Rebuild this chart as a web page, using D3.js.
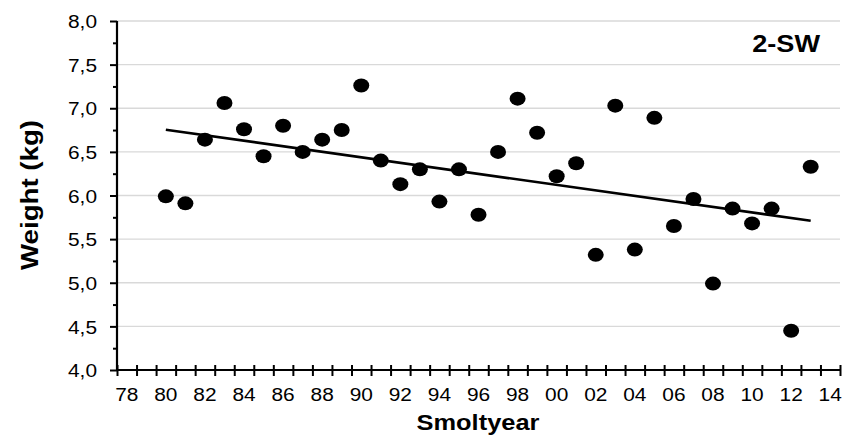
<!DOCTYPE html>
<html>
<head>
<meta charset="utf-8">
<script src="https://cdn.jsdelivr.net/npm/d3@7"></script>
<style>
  body { margin: 0; background: #fff; }
  text { font-family: "Liberation Sans", Arial, sans-serif; fill: #000; }
</style>
</head>
<body>
<svg id="chart" width="851" height="441"></svg>
<script>
// smolt years and mean weight (kg) of 2-SW fish
var years = [1980, 1981, 1982, 1983, 1984, 1985, 1986, 1987, 1988, 1989,
             1990, 1991, 1992, 1993, 1994, 1995, 1996, 1997, 1998, 1999,
             2000, 2001, 2002, 2003, 2004, 2005, 2006, 2007, 2008, 2009,
             2010, 2011, 2012, 2013];
var weights = [5.99, 5.91, 6.64, 7.06, 6.76, 6.45, 6.80, 6.50, 6.64, 6.75,
               7.26, 6.40, 6.13, 6.30, 5.93, 6.30, 5.78, 6.50, 7.11, 6.72,
               6.22, 6.37, 5.32, 7.03, 5.38, 6.89, 5.65, 5.96, 4.99, 5.85,
               5.68, 5.85, 4.45, 6.33];
var categoryYears = d3.range(1978, 2015);          // axis categories 78..14
var xLabelYears = d3.range(1978, 2015, 2);         // labelled every 2nd year
var yTicks = [4.0, 4.5, 5.0, 5.5, 6.0, 6.5, 7.0, 7.5, 8.0];
var yMinorTicks = d3.range(4.25, 8, 0.5);
var seriesLabel = "2-SW";
var xTitle = "Smoltyear";
var yTitle = "Weight (kg)";

var plotL = 117, plotR = 840, plotT = 21, plotB = 370;
var stretch = 1.13;   // glyphs in the original are a bit wider than Arial

var svg = d3.select("#chart");

var x = d3.scaleBand().domain(categoryYears).range([plotL, plotR]).padding(0);
var xEdge = d3.scaleLinear().domain([1978, 2015]).range([plotL, plotR]);
var y = d3.scaleLinear().domain([4, 8]).range([plotB, plotT]);

var locale = d3.formatLocale({ decimal: ",", thousands: ".", grouping: [3], currency: ["", ""] });
var fmtY = locale.format(".1f");

// gridlines
svg.append("g")
    .selectAll("line")
    .data(yTicks.slice(1))
    .enter().append("line")
    .attr("x1", plotL).attr("x2", plotR)
    .attr("y1", d => y(d)).attr("y2", d => y(d))
    .attr("stroke", "#d9d9d9")
    .attr("stroke-width", 1.3);

// trend line (least squares, as in the spreadsheet)
var n = years.length,
    mx = d3.mean(years),
    my = d3.mean(weights);
var sxy = d3.sum(years, (d, i) => (d - mx) * (weights[i] - my)),
    sxx = d3.sum(years, d => (d - mx) * (d - mx));
var slope = sxy / sxx,
    icpt = my - slope * mx;
var ends = [years[0], years[n - 1]];
svg.append("line")
    .attr("x1", x(ends[0]) + x.bandwidth() / 2)
    .attr("x2", x(ends[1]) + x.bandwidth() / 2)
    .attr("y1", y(icpt + slope * ends[0]))
    .attr("y2", y(icpt + slope * ends[1]))
    .attr("stroke", "#000")
    .attr("stroke-width", 2.7);

// points
svg.append("g")
    .selectAll("ellipse")
    .data(years)
    .enter().append("ellipse")
    .attr("cx", d => x(d) + x.bandwidth() / 2)
    .attr("cy", (d, i) => y(weights[i]))
    .attr("rx", 8)
    .attr("ry", 7)
    .attr("fill", "#000");

// y axis: major ticks with labels, minor ticks without
var yAxis = svg.append("g")
    .attr("transform", "translate(" + plotL + ",0)")
    .call(d3.axisLeft(y).tickValues(yTicks).tickSize(7).tickPadding(0).tickFormat(fmtY));
yAxis.select(".domain").remove();
yAxis.selectAll("line").attr("stroke", "#000").attr("stroke-width", 2);
yAxis.selectAll("text")
    .attr("x", -20 / stretch)
    .attr("dy", "0.36em")
    .attr("transform", "scale(" + stretch + ",1)")
    .style("font-size", "18.5px");

var yMinor = svg.append("g")
    .attr("transform", "translate(" + plotL + ",0)")
    .call(d3.axisLeft(y).tickValues(yMinorTicks).tickSize(4).tickFormat(""));
yMinor.select(".domain").remove();
yMinor.selectAll("line").attr("stroke", "#000").attr("stroke-width", 2);

svg.append("line")
    .attr("x1", plotL).attr("x2", plotL)
    .attr("y1", plotT).attr("y2", plotB + 1)
    .attr("stroke", "#000").attr("stroke-width", 2.2);

// x axis: tick marks at category edges, labels centred in categories
var xTicks = svg.append("g")
    .attr("transform", "translate(0," + plotB + ")")
    .call(d3.axisBottom(xEdge).tickValues(d3.range(1978, 2016)).tickSize(6).tickFormat(""));
xTicks.select(".domain").remove();
xTicks.selectAll("line").attr("y1", -5).attr("stroke", "#000").attr("stroke-width", 2);

var xLabels = svg.append("g")
    .attr("transform", "translate(0," + plotB + ")")
    .call(d3.axisBottom(x).tickValues(xLabelYears).tickSize(0).tickPadding(0)
        .tickFormat(d => d3.format("02d")(d % 100)));
xLabels.select(".domain").remove();
xLabels.selectAll(".tick").each(function () {
    var t = d3.select(this);
    var cx = x(t.datum()) + x.bandwidth() / 2;
    t.attr("transform", "translate(" + cx + ",0) scale(" + stretch + ",1)");
});
xLabels.selectAll("text")
    .attr("y", 31)
    .attr("dy", 0)
    .style("font-size", "18.5px");

svg.append("line")
    .attr("x1", plotL - 1).attr("x2", plotR)
    .attr("y1", plotB).attr("y2", plotB)
    .attr("stroke", "#000").attr("stroke-width", 2.2);

// titles
svg.append("text")
    .attr("transform", "translate(478,430) scale(" + stretch + ",1)")
    .attr("text-anchor", "middle")
    .style("font-size", "22.5px")
    .style("font-weight", "bold")
    .text(xTitle);

svg.append("text")
    .attr("transform", "translate(38,195) rotate(-90) scale(" + stretch + ",1)")
    .attr("text-anchor", "middle")
    .style("font-size", "24.5px")
    .style("font-weight", "bold")
    .text(yTitle);

svg.append("text")
    .attr("transform", "translate(820,52) scale(" + stretch + ",1)")
    .attr("text-anchor", "end")
    .style("font-size", "24px")
    .style("font-weight", "bold")
    .text(seriesLabel);
</script>
</body>
</html>
